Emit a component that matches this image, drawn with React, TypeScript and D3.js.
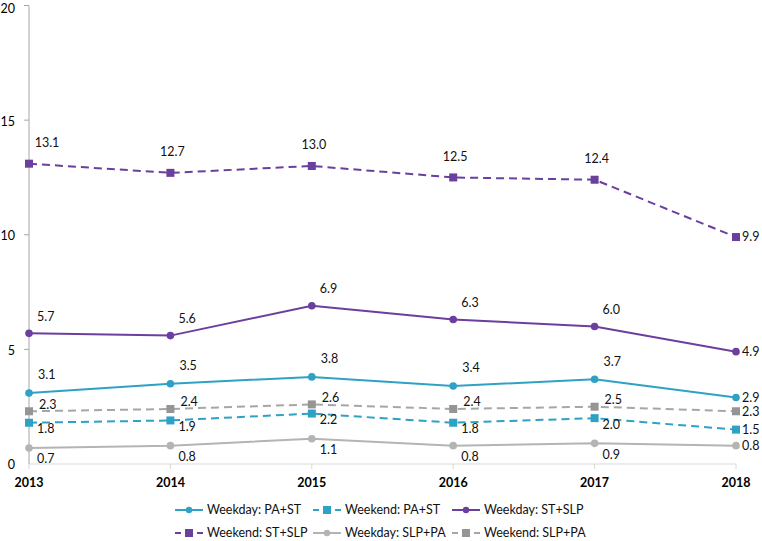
import React from "react";
import * as d3 from "d3";

const years = ["2013", "2014", "2015", "2016", "2017", "2018"];
const yTicks = [0, 5, 10, 15, 20];

const weekdayPAST = [3.1, 3.5, 3.8, 3.4, 3.7, 2.9];
const weekendPAST = [1.8, 1.9, 2.2, 1.8, 2.0, 1.5];
const weekdaySTSLP = [5.7, 5.6, 6.9, 6.3, 6.0, 4.9];
const weekendSTSLP = [13.1, 12.7, 13.0, 12.5, 12.4, 9.9];
const weekdaySLPPA = [0.7, 0.8, 1.1, 0.8, 0.9, 0.8];
const weekendSLPPA = [2.3, 2.4, 2.6, 2.4, 2.5, 2.3];

const seriesNames = [
  "Weekday: PA+ST",
  "Weekend: PA+ST",
  "Weekday: ST+SLP",
  "Weekend: ST+SLP",
  "Weekday: SLP+PA",
  "Weekend: SLP+PA",
];

type S = {
  name: string;
  values: number[];
  color: string;
  markerColor: string;
  dashed: boolean;
  labelDy: number;
  labelDx: number;
  anchor: "start" | "middle";
};

const TEAL = "#2fa1c5";
const PURPLE = "#6a3f9e";
const GRAY = "#b4b4b4";
const GRAY2 = "#a6a6a6";

const series: S[] = [
  { name: seriesNames[0], values: weekdayPAST, color: TEAL, markerColor: TEAL, dashed: false, labelDy: -18, labelDx: 9, anchor: "start" },
  { name: seriesNames[1], values: weekendPAST, color: TEAL, markerColor: TEAL, dashed: true, labelDy: 6, labelDx: 8, anchor: "start" },
  { name: seriesNames[2], values: weekdaySTSLP, color: PURPLE, markerColor: PURPLE, dashed: false, labelDy: -17, labelDx: 8, anchor: "start" },
  { name: seriesNames[3], values: weekendSTSLP, color: PURPLE, markerColor: PURPLE, dashed: true, labelDy: -21, labelDx: 2, anchor: "middle" },
  { name: seriesNames[4], values: weekdaySLPPA, color: GRAY, markerColor: GRAY, dashed: false, labelDy: 11, labelDx: 8, anchor: "start" },
  { name: seriesNames[5], values: weekendSLPPA, color: GRAY2, markerColor: "#959595", dashed: true, labelDy: -7, labelDx: 10, anchor: "start" },
];

const W = 762;
const H = 541;
const FONT = "Lato, 'Liberation Sans', sans-serif";

export default function App() {
  const x = d3.scalePoint<string>().domain(years).range([29, 736]);
  const y = d3.scaleLinear().domain([0, 20]).range([464, 5.5]);

  const line = d3
    .line<number>()
    .x((_, i) => x(years[i]) as number)
    .y((d) => y(d));

  const legendCols = [175, 313, 452];
  const legendRows = [510, 533];

  return (
    <svg
      width={W}
      height={H}
      style={{ position: "absolute", left: 0, top: 0, background: "#fff" }}
      fontFamily={FONT}
    >
      <rect width={W} height={H} fill="#fff" />
      {/* x axis */}
      <line x1={29} x2={736} y1={y(0)} y2={y(0)} stroke="#d9d9d9" strokeWidth={1} />
      {years.map((yr) => (
        <line key={"xt" + yr} x1={x(yr)} x2={x(yr)} y1={y(0)} y2={y(0) + 5} stroke="#d9d9d9" />
      ))}
      {/* y axis */}
      <line x1={29} x2={29} y1={y(20)} y2={y(0)} stroke="#a6a6a6" strokeWidth={1} />
      {yTicks.map((t) => (
        <g key={"yt" + t}>
          {t > 0 && <line x1={24} x2={29} y1={y(t)} y2={y(t)} stroke="#a6a6a6" />}
          <text
            x={15}
            y={Math.max(y(t) + 1, 8.5)}
            dy="0.35em"
            textAnchor="end"
            fontSize={12.5}
            fill="#000"
          >
            {t}
          </text>
        </g>
      ))}
      {years.map((yr) => (
        <text
          key={"xl" + yr}
          x={x(yr)}
          y={483}
          dy="0.35em"
          textAnchor="middle"
          fontSize={12.5}
          fontWeight="bold"
          fill="#000"
        >
          {yr}
        </text>
      ))}

      {/* series */}
      {series.map((s) => (
        <g key={s.name}>
          <path
            d={line(s.values) || ""}
            fill="none"
            stroke={s.color}
            strokeWidth={2}
            strokeDasharray={s.dashed ? "8,5" : undefined}
          />
          {s.values.map((v, i) => {
            const cx = x(years[i]) as number;
            const cy = y(v);
            return s.dashed ? (
              <rect key={i} x={cx - 4} y={cy - 4} width={8} height={8} fill={s.markerColor} />
            ) : (
              <circle key={i} cx={cx} cy={cy} r={3.8} fill={s.markerColor} />
            );
          })}
          {s.values.map((v, i) => {
            const cx = x(years[i]) as number;
            const cy = y(v);
            const last = i === years.length - 1;
            let dx = s.labelDx;
            let anchor: "start" | "middle" = s.anchor;
            if (anchor === "middle" && i === 0) dx = 18;
            if (last) {
              dx = 6;
              anchor = "start";
            }
            return (
              <text
                key={"l" + i}
                x={cx + dx}
                y={cy + (last ? 0 : s.labelDy)}
                dy="0.35em"
                textAnchor={anchor}
                fontSize={12.5}
                fill="#111"
              >
                {v.toFixed(1)}
              </text>
            );
          })}
        </g>
      ))}

      {/* legend */}
      {series.map((s, i) => {
        const lx = legendCols[i % 3];
        const ly = legendRows[Math.floor(i / 3)];
        return (
          <g key={"lg" + i}>
            {s.dashed ? (
              <>
                <line x1={lx} x2={lx + 6} y1={ly} y2={ly} stroke={s.color} strokeWidth={2} />
                <line x1={lx + 22} x2={lx + 28} y1={ly} y2={ly} stroke={s.color} strokeWidth={2} />
                <rect x={lx + 10} y={ly - 4} width={8} height={8} fill={s.markerColor} />
              </>
            ) : (
              <>
                <line x1={lx} x2={lx + 28} y1={ly} y2={ly} stroke={s.color} strokeWidth={2} />
                <circle cx={lx + 14} cy={ly} r={3.2} fill={s.markerColor} />
              </>
            )}
            <text x={lx + 32} y={ly} dy="0.35em" fontSize={12.5} fill="#111">
              {s.name}
            </text>
          </g>
        );
      })}
    </svg>
  );
}
